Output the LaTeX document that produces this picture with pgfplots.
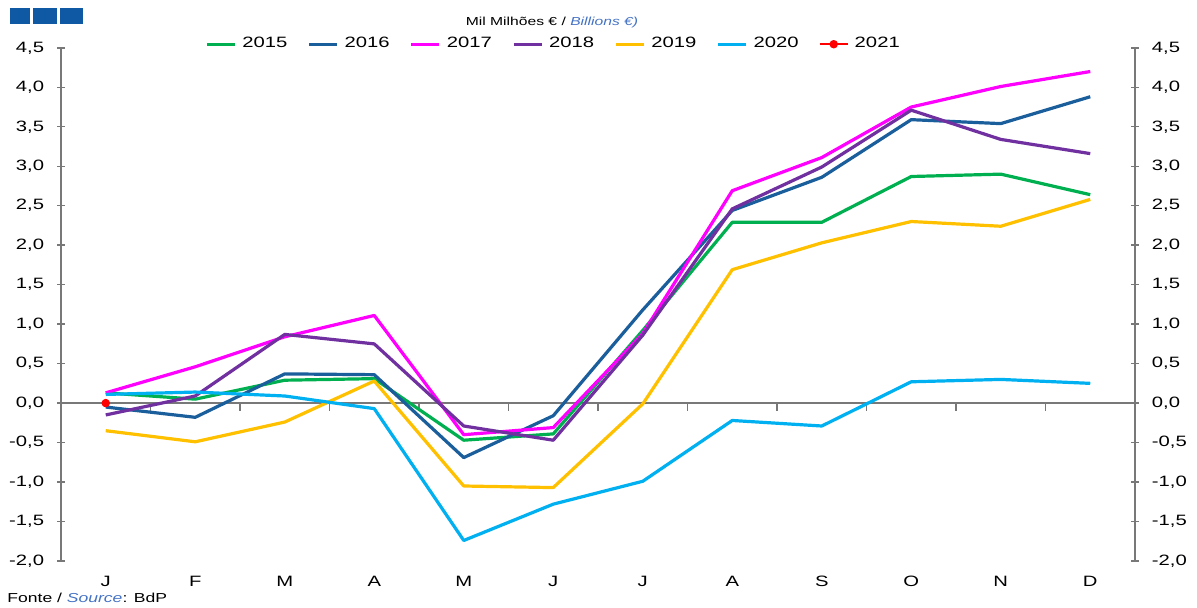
\documentclass[border=0pt]{standalone}
\usepackage{fontspec}
\setmainfont{Liberation Sans}[FakeStretch=1.35]
\usepackage{pgfplots}
\pgfplotsset{compat=1.18}
\definecolor{c15}{RGB}{0,176,80}
\definecolor{c16}{RGB}{27,94,156}
\definecolor{c17}{RGB}{255,0,255}
\definecolor{c18}{RGB}{112,48,160}
\definecolor{c19}{RGB}{255,192,0}
\definecolor{c20}{RGB}{0,176,240}
\definecolor{c21}{RGB}{255,0,0}
\definecolor{axgray}{RGB}{120,120,120}
\definecolor{hdrblue}{RGB}{14,88,164}
\definecolor{txtblue}{RGB}{68,114,196}
\pgfplotsset{
  base/.style={
    at={(30.5pt,23pt)}, anchor=south west, scale only axis,
    width=537pt, height=256.6pt,
    xmin=-0.5, xmax=11.5, ymin=-2, ymax=4.5,
    ytick={-2,-1.5,...,4.5},
    major tick length=3.8pt,
    tick style={draw=axgray, line width=0.7pt},
    yticklabel style={/pgf/number format/use comma, /pgf/number format/fixed, /pgf/number format/fixed zerofill, /pgf/number format/precision=1, /pgf/number format/assume math mode=true},
  }
}
\begin{document}
\begin{tikzpicture}[font=\fontsize{7.5}{9}\selectfont]
\useasboundingbox (0,0) rectangle (598.5pt,303.5pt);
% zero line with ticks
\begin{axis}[base, axis x line=middle, axis y line=none,
  x axis line style={-, draw=axgray, line width=0.8pt},
  xtick={0.5,1.5,...,10.5}, xticklabels={}, xtick align=outside,
  ytick=\empty]
\end{axis}
% right axis
\begin{axis}[base, axis y line*=right, axis x line=none,
  y axis line style={-, draw=axgray, line width=0.8pt},
  ytick align=center, yticklabel style={xshift=3pt}]
\end{axis}
% main axis
\begin{axis}[base, axis lines*=left,
  x axis line style={draw=none},
  y axis line style={-, draw=axgray, line width=0.8pt},
  ytick align=center, yticklabel style={xshift=-3pt},
  xtick={0,...,11}, xticklabels={J,F,M,A,M,J,J,A,S,O,N,D},
  xtick style={draw=none}, xticklabel style={yshift=-4pt},
  legend columns=7,
  legend style={draw=none, fill=none, at={(0.4595,1.007)}, anchor=center,
    /tikz/every even column/.append style={column sep=8pt},
    /tikz/every odd column/.append style={column sep=1pt}},
  legend image code/.code={\draw[mark repeat=2,mark phase=2,#1] plot coordinates {(0pt,0pt) (7pt,0pt) (14pt,0pt)};},
  every axis plot/.append style={line width=1.6pt, line join=round},
]
\addplot[c15, no marks] coordinates {(0,0.13) (1,0.05) (2,0.29) (3,0.31) (4,-0.47) (5,-0.39) (6,0.92) (7,2.29) (8,2.29) (9,2.87) (10,2.90) (11,2.64)};
\addlegendentry{2015}
\addplot[c16, no marks] coordinates {(0,-0.05) (1,-0.18) (2,0.37) (3,0.36) (4,-0.69) (5,-0.16) (6,1.18) (7,2.44) (8,2.86) (9,3.59) (10,3.54) (11,3.88)};
\addlegendentry{2016}
\addplot[c17, no marks] coordinates {(0,0.13) (1,0.46) (2,0.84) (3,1.11) (4,-0.40) (5,-0.31) (6,0.88) (7,2.69) (8,3.11) (9,3.75) (10,4.01) (11,4.20)};
\addlegendentry{2017}
\addplot[c18, no marks] coordinates {(0,-0.15) (1,0.09) (2,0.87) (3,0.75) (4,-0.29) (5,-0.47) (6,0.86) (7,2.46) (8,2.99) (9,3.71) (10,3.34) (11,3.16)};
\addlegendentry{2018}
\addplot[c19, no marks] coordinates {(0,-0.35) (1,-0.49) (2,-0.24) (3,0.28) (4,-1.05) (5,-1.07) (6,-0.01) (7,1.69) (8,2.03) (9,2.30) (10,2.24) (11,2.58)};
\addlegendentry{2019}
\addplot[c20, no marks] coordinates {(0,0.11) (1,0.14) (2,0.09) (3,-0.07) (4,-1.74) (5,-1.28) (6,-0.99) (7,-0.22) (8,-0.29) (9,0.27) (10,0.30) (11,0.25)};
\addlegendentry{2020}
\addplot[c21, line width=1pt, mark=*, mark size=1.6pt] coordinates {(0,0.0)};
\addlegendentry{2021}
\end{axis}
% header squares
\fill[hdrblue] (5pt,291.5pt) rectangle (15pt,299.5pt);
\fill[hdrblue] (16.5pt,291.5pt) rectangle (28.5pt,299.5pt);
\fill[hdrblue] (30pt,291.5pt) rectangle (41.5pt,299.5pt);
% title
\node[font=\fontsize{5.8}{7}\selectfont, inner sep=0pt] at (276pt,292.3pt) {Mil Milhões € / {\color{txtblue}\itshape Billions €)}};
% source
\node[font=\fontsize{6.5}{8}\selectfont, inner sep=0pt, anchor=west] at (3.5pt,4.5pt) {Fonte / {\color{txtblue}\itshape Source}: BdP};
\end{tikzpicture}
\end{document}
